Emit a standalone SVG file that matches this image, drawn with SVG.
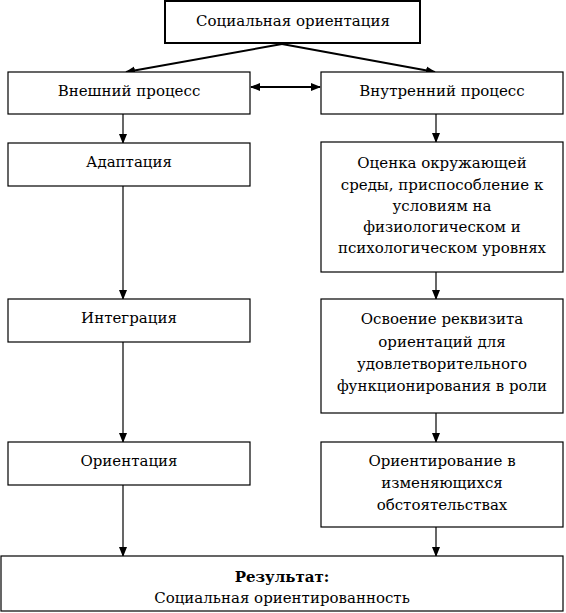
<svg xmlns="http://www.w3.org/2000/svg" width="566" height="613" viewBox="0 0 566 613">
<style>
  rect { fill: #fff; stroke: #000; stroke-width: 1.2; }
  rect.thick { stroke-width: 2; }
  text { font-family: "DejaVu Serif", "Liberation Serif", serif; font-size: 15px; fill: #000; text-anchor: middle; }
  text.b { font-weight: bold; }
  .c line { stroke: #000; stroke-width: 1.2; }
</style>
<defs>
  <marker id="ah" markerWidth="10" markerHeight="10" refX="9" refY="5" orient="auto" markerUnits="userSpaceOnUse">
    <path d="M0,1 L10,5 L0,9 Z" fill="#000"/>
  </marker>
  <marker id="ahs" markerWidth="10" markerHeight="10" refX="1" refY="5" orient="auto" markerUnits="userSpaceOnUse">
    <path d="M10,1 L0,5 L10,9 Z" fill="#000"/>
  </marker>
</defs>
<g class="c" id="connectors">
  <line x1="282" y1="44" x2="126" y2="72" marker-end="url(#ah)" style="stroke-width:2"/>
  <line x1="282" y1="44" x2="435" y2="72" marker-end="url(#ah)" style="stroke-width:2"/>
  <line x1="251" y1="87" x2="320" y2="87" marker-start="url(#ahs)" marker-end="url(#ah)" style="stroke-width:2"/>
  <line x1="123" y1="114" x2="123" y2="143" marker-end="url(#ah)"/>
  <line x1="436" y1="114" x2="436" y2="142" marker-end="url(#ah)"/>
  <line x1="123" y1="186" x2="123" y2="299" marker-end="url(#ah)"/>
  <line x1="436" y1="272" x2="436" y2="299" marker-end="url(#ah)"/>
  <line x1="123" y1="342" x2="123" y2="442" marker-end="url(#ah)"/>
  <line x1="436" y1="413" x2="436" y2="442" marker-end="url(#ah)"/>
  <line x1="123" y1="485" x2="123" y2="556" marker-end="url(#ah)"/>
  <line x1="436" y1="527" x2="436" y2="556" marker-end="url(#ah)"/>
</g>
<g id="n-top"><rect class="thick" x="165" y="1" width="255" height="42"/><text x="293" y="26">Социальная ориентация</text></g>
<g id="n-ext"><rect x="8" y="72" width="242" height="42"/><text x="129" y="96">Внешний процесс</text></g>
<g id="n-int"><rect x="321" y="72" width="242" height="42"/><text x="442" y="96">Внутренний процесс</text></g>
<g id="n-adapt"><rect x="8" y="143" width="242" height="43"/><text x="129" y="167">Адаптация</text></g>
<g id="n-eval"><rect x="321" y="142" width="242" height="130"/>
  <text x="442" y="168">Оценка окружающей</text>
  <text x="442" y="189.5">среды, приспособление к</text>
  <text x="442" y="211">условиям на</text>
  <text x="442" y="232">физиологическом и</text>
  <text x="442" y="253">психологическом уровнях</text>
</g>
<g id="n-integr"><rect x="8" y="299" width="242" height="43"/><text x="129" y="323">Интеграция</text></g>
<g id="n-master"><rect x="321" y="299" width="242" height="114"/>
  <text x="442" y="324">Освоение реквизита</text>
  <text x="442" y="346.5">ориентаций для</text>
  <text x="442" y="369">удовлетворительного</text>
  <text x="442" y="391">функционирования в роли</text>
</g>
<g id="n-orient"><rect x="8" y="442" width="242" height="43"/><text x="129" y="466">Ориентация</text></g>
<g id="n-orienting"><rect x="321" y="442" width="242" height="85"/>
  <text x="442" y="466">Ориентирование в</text>
  <text x="442" y="488">изменяющихся</text>
  <text x="442" y="510">обстоятельствах</text>
</g>
<g id="n-result"><rect x="1" y="556" width="562" height="55"/>
  <text class="b" x="282" y="582">Результат:</text>
  <text x="282" y="603">Социальная ориентированность</text>
</g>
</svg>
